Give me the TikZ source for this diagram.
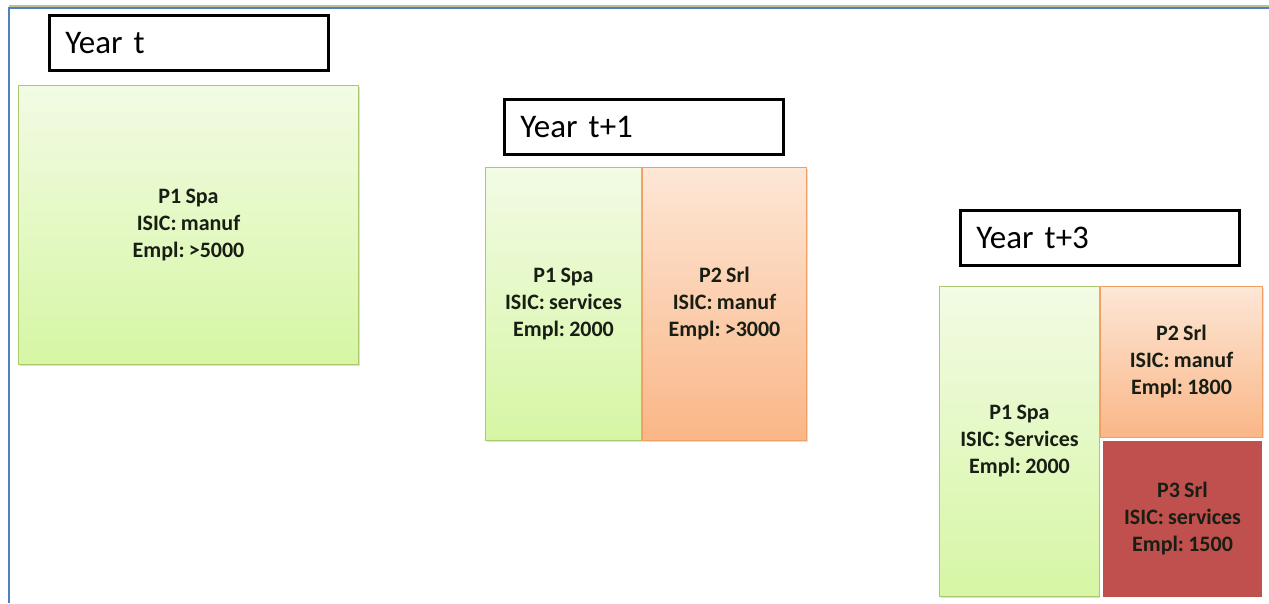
\documentclass[tikz,border=0pt]{standalone}
\usepackage{fontspec}
\setmainfont{Carlito}[WordSpace=0.85]
\frenchspacing
\usetikzlibrary{positioning,shadows}
\definecolor{frameblue}{RGB}{79,129,189}
\definecolor{frametan}{RGB}{196,189,151}
\definecolor{greenline}{RGB}{170,200,110}
\definecolor{greentop}{RGB}{242,251,228}
\definecolor{greenbot}{RGB}{214,246,164}
\definecolor{orangeline}{RGB}{240,160,100}
\definecolor{orangetop}{RGB}{253,231,214}
\definecolor{orangebot}{RGB}{250,182,135}
\definecolor{redfill}{RGB}{192,80,77}
\definecolor{textgrey}{RGB}{25,30,20}
\tikzset{
x=1pt, y=-1pt, % one unit is one pixel of the page
year/.style={draw=black, line width=2.5pt, fill=white, anchor=north west,
  minimum height=55, text width=247, inner xsep=16, align=left,
  font=\fontsize{33}{36}\selectfont}, % the "Year" labels
firm/.style={anchor=north west, inner sep=0, align=center, text=textgrey,
  font=\bfseries\fontsize{22}{27}\selectfont,
  drop shadow={opacity=0.25, shadow xshift=1.5pt, shadow yshift=-1.5pt}}, % every firm box
manuf/.style={firm, draw=greenline, line width=1pt, top color=greentop, bottom color=greenbot},
spinoff/.style={firm, draw=orangeline, line width=1pt, top color=orangetop, bottom color=orangebot},
newfirm/.style={firm, draw=white, line width=3pt, fill=redfill},
}
\begin{document}
\begin{tikzpicture}
\useasboundingbox (0,0) rectangle (1269,603);
% frame of the slide
\coordinate (fnw) at (9,8);
\coordinate (fne) at (1269,8);
\coordinate (fsw) at (9,603);
\draw[frametan, line width=2pt] ([yshift=2]fnw) -- ([yshift=2]fne);
\draw[frameblue, line width=2pt] (fsw) -- (fnw) -- (fne);

% year t
\node[year] (yt) at (48,14) {Year t};
\node[manuf, minimum width=340, minimum height=279] (a1) at (18,85) {P1 Spa\\ISIC: manuf\\Empl: >5000};

% year t+1
\node[year] (yt1) at (503,98) {Year t+1};
\node[manuf, minimum width=156, minimum height=273] (b1) at (485,167) {P1 Spa\\ISIC: services\\Empl: 2000};
\node[spinoff, minimum width=164, minimum height=273, right=0 of b1.north east, anchor=north west] (b2) {P2 Srl\\ISIC: manuf\\Empl: >3000};

% year t+3
\node[year] (yt3) at (959,209) {Year t+3};
\node[manuf, minimum width=160, minimum height=310] (c1) at (939,286) {P1 Spa\\ISIC: Services\\Empl: 2000};
\node[spinoff, minimum width=162, minimum height=151, right=0 of c1.north east, anchor=north west] (c2) {P2 Srl\\ISIC: manuf\\Empl: 1800};
\node[newfirm, minimum width=162, minimum height=159, below=0 of c2.south west, anchor=north west] (c3) {P3 Srl\\ISIC: services\\Empl: 1500};

\end{tikzpicture}
\end{document}
